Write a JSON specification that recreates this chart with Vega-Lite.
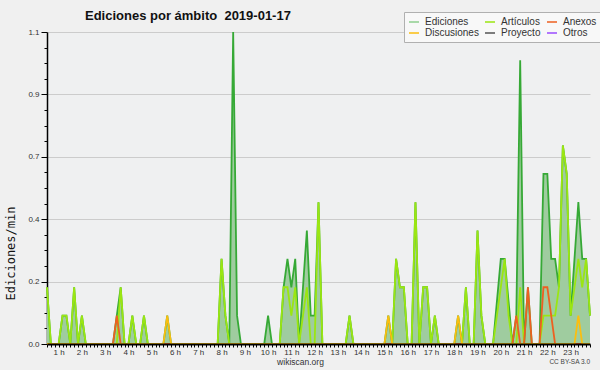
{
"$schema": "https://vega.github.io/schema/vega-lite/v6.json",
"width": 543, "height": 312,
"autosize": {"type": "none"},
"padding": {"left": 47, "top": 32, "right": 10, "bottom": 26},
"background": "#f0f0f0",
"config": {"view": {"fill": "#eff0f1", "stroke": null}, "font": "Liberation Sans"},
"title": {"text": "Ediciones por ámbito\u00a0 2019-01-17", "anchor": "start", "frame": "group", "dx": 38, "dy": 32, "offset": 11, "baseline": "alphabetic", "font": "Liberation Sans", "fontSize": 13, "fontWeight": "bold", "color": "#111111"},
"data": {"values": [
{"m":30,"Ediciones":0.2,"Artículos":0.2,"Anexos":0,"Discusiones":0},
{"m":40,"Ediciones":0,"Artículos":0,"Anexos":0,"Discusiones":0},
{"m":50,"Ediciones":0,"Artículos":0,"Anexos":0,"Discusiones":0},
{"m":60,"Ediciones":0,"Artículos":0,"Anexos":0,"Discusiones":0},
{"m":70,"Ediciones":0.1,"Artículos":0.1,"Anexos":0,"Discusiones":0},
{"m":80,"Ediciones":0.1,"Artículos":0.1,"Anexos":0,"Discusiones":0},
{"m":90,"Ediciones":0,"Artículos":0,"Anexos":0,"Discusiones":0},
{"m":100,"Ediciones":0.2,"Artículos":0.2,"Anexos":0,"Discusiones":0},
{"m":110,"Ediciones":0,"Artículos":0,"Anexos":0,"Discusiones":0},
{"m":120,"Ediciones":0.1,"Artículos":0.1,"Anexos":0,"Discusiones":0},
{"m":130,"Ediciones":0,"Artículos":0,"Anexos":0,"Discusiones":0},
{"m":140,"Ediciones":0,"Artículos":0,"Anexos":0,"Discusiones":0},
{"m":150,"Ediciones":0,"Artículos":0,"Anexos":0,"Discusiones":0},
{"m":160,"Ediciones":0,"Artículos":0,"Anexos":0,"Discusiones":0},
{"m":170,"Ediciones":0,"Artículos":0,"Anexos":0,"Discusiones":0},
{"m":180,"Ediciones":0,"Artículos":0,"Anexos":0,"Discusiones":0},
{"m":190,"Ediciones":0,"Artículos":0,"Anexos":0,"Discusiones":0},
{"m":200,"Ediciones":0,"Artículos":0,"Anexos":0,"Discusiones":0},
{"m":210,"Ediciones":0.1,"Artículos":0,"Anexos":0.1,"Discusiones":0},
{"m":220,"Ediciones":0.2,"Artículos":0.2,"Anexos":0,"Discusiones":0},
{"m":230,"Ediciones":0,"Artículos":0,"Anexos":0,"Discusiones":0},
{"m":240,"Ediciones":0,"Artículos":0,"Anexos":0,"Discusiones":0},
{"m":250,"Ediciones":0.1,"Artículos":0.1,"Anexos":0,"Discusiones":0},
{"m":260,"Ediciones":0,"Artículos":0,"Anexos":0,"Discusiones":0},
{"m":270,"Ediciones":0,"Artículos":0,"Anexos":0,"Discusiones":0},
{"m":280,"Ediciones":0.1,"Artículos":0.1,"Anexos":0,"Discusiones":0},
{"m":290,"Ediciones":0,"Artículos":0,"Anexos":0,"Discusiones":0},
{"m":300,"Ediciones":0,"Artículos":0,"Anexos":0,"Discusiones":0},
{"m":310,"Ediciones":0,"Artículos":0,"Anexos":0,"Discusiones":0},
{"m":320,"Ediciones":0,"Artículos":0,"Anexos":0,"Discusiones":0},
{"m":330,"Ediciones":0,"Artículos":0,"Anexos":0,"Discusiones":0},
{"m":340,"Ediciones":0.1,"Artículos":0,"Anexos":0,"Discusiones":0.1},
{"m":350,"Ediciones":0,"Artículos":0,"Anexos":0,"Discusiones":0},
{"m":360,"Ediciones":0,"Artículos":0,"Anexos":0,"Discusiones":0},
{"m":370,"Ediciones":0,"Artículos":0,"Anexos":0,"Discusiones":0},
{"m":380,"Ediciones":0,"Artículos":0,"Anexos":0,"Discusiones":0},
{"m":390,"Ediciones":0,"Artículos":0,"Anexos":0,"Discusiones":0},
{"m":400,"Ediciones":0,"Artículos":0,"Anexos":0,"Discusiones":0},
{"m":410,"Ediciones":0,"Artículos":0,"Anexos":0,"Discusiones":0},
{"m":420,"Ediciones":0,"Artículos":0,"Anexos":0,"Discusiones":0},
{"m":430,"Ediciones":0,"Artículos":0,"Anexos":0,"Discusiones":0},
{"m":440,"Ediciones":0,"Artículos":0,"Anexos":0,"Discusiones":0},
{"m":450,"Ediciones":0,"Artículos":0,"Anexos":0,"Discusiones":0},
{"m":460,"Ediciones":0,"Artículos":0,"Anexos":0,"Discusiones":0},
{"m":470,"Ediciones":0,"Artículos":0,"Anexos":0,"Discusiones":0},
{"m":480,"Ediciones":0.3,"Artículos":0.3,"Anexos":0,"Discusiones":0},
{"m":490,"Ediciones":0.1,"Artículos":0.1,"Anexos":0,"Discusiones":0},
{"m":500,"Ediciones":0,"Artículos":0,"Anexos":0,"Discusiones":0},
{"m":510,"Ediciones":1.1,"Artículos":0,"Anexos":0,"Discusiones":0},
{"m":520,"Ediciones":0.1,"Artículos":0,"Anexos":0,"Discusiones":0},
{"m":530,"Ediciones":0,"Artículos":0,"Anexos":0,"Discusiones":0},
{"m":540,"Ediciones":0,"Artículos":0,"Anexos":0,"Discusiones":0},
{"m":550,"Ediciones":0,"Artículos":0,"Anexos":0,"Discusiones":0},
{"m":560,"Ediciones":0,"Artículos":0,"Anexos":0,"Discusiones":0},
{"m":570,"Ediciones":0,"Artículos":0,"Anexos":0,"Discusiones":0},
{"m":580,"Ediciones":0,"Artículos":0,"Anexos":0,"Discusiones":0},
{"m":590,"Ediciones":0,"Artículos":0,"Anexos":0,"Discusiones":0},
{"m":600,"Ediciones":0.1,"Artículos":0,"Anexos":0,"Discusiones":0},
{"m":610,"Ediciones":0,"Artículos":0,"Anexos":0,"Discusiones":0},
{"m":620,"Ediciones":0,"Artículos":0,"Anexos":0,"Discusiones":0},
{"m":630,"Ediciones":0,"Artículos":0,"Anexos":0,"Discusiones":0},
{"m":640,"Ediciones":0.2,"Artículos":0.2,"Anexos":0,"Discusiones":0},
{"m":650,"Ediciones":0.3,"Artículos":0.2,"Anexos":0,"Discusiones":0},
{"m":660,"Ediciones":0.2,"Artículos":0.1,"Anexos":0,"Discusiones":0},
{"m":670,"Ediciones":0.3,"Artículos":0.2,"Anexos":0,"Discusiones":0},
{"m":680,"Ediciones":0,"Artículos":0,"Anexos":0,"Discusiones":0},
{"m":690,"Ediciones":0.2,"Artículos":0.1,"Anexos":0,"Discusiones":0},
{"m":700,"Ediciones":0.4,"Artículos":0.2,"Anexos":0,"Discusiones":0},
{"m":710,"Ediciones":0.1,"Artículos":0,"Anexos":0,"Discusiones":0},
{"m":720,"Ediciones":0.1,"Artículos":0,"Anexos":0,"Discusiones":0},
{"m":730,"Ediciones":0.5,"Artículos":0.5,"Anexos":0,"Discusiones":0},
{"m":740,"Ediciones":0,"Artículos":0,"Anexos":0,"Discusiones":0},
{"m":750,"Ediciones":0,"Artículos":0,"Anexos":0,"Discusiones":0},
{"m":760,"Ediciones":0,"Artículos":0,"Anexos":0,"Discusiones":0},
{"m":770,"Ediciones":0,"Artículos":0,"Anexos":0,"Discusiones":0},
{"m":780,"Ediciones":0,"Artículos":0,"Anexos":0,"Discusiones":0},
{"m":790,"Ediciones":0,"Artículos":0,"Anexos":0,"Discusiones":0},
{"m":800,"Ediciones":0,"Artículos":0,"Anexos":0,"Discusiones":0},
{"m":810,"Ediciones":0.1,"Artículos":0.1,"Anexos":0,"Discusiones":0},
{"m":820,"Ediciones":0,"Artículos":0,"Anexos":0,"Discusiones":0},
{"m":830,"Ediciones":0,"Artículos":0,"Anexos":0,"Discusiones":0},
{"m":840,"Ediciones":0,"Artículos":0,"Anexos":0,"Discusiones":0},
{"m":850,"Ediciones":0,"Artículos":0,"Anexos":0,"Discusiones":0},
{"m":860,"Ediciones":0,"Artículos":0,"Anexos":0,"Discusiones":0},
{"m":870,"Ediciones":0,"Artículos":0,"Anexos":0,"Discusiones":0},
{"m":880,"Ediciones":0,"Artículos":0,"Anexos":0,"Discusiones":0},
{"m":890,"Ediciones":0,"Artículos":0,"Anexos":0,"Discusiones":0},
{"m":900,"Ediciones":0,"Artículos":0,"Anexos":0,"Discusiones":0},
{"m":910,"Ediciones":0.1,"Artículos":0,"Anexos":0,"Discusiones":0.1},
{"m":920,"Ediciones":0,"Artículos":0,"Anexos":0,"Discusiones":0},
{"m":930,"Ediciones":0.3,"Artículos":0.3,"Anexos":0,"Discusiones":0},
{"m":940,"Ediciones":0.2,"Artículos":0.2,"Anexos":0,"Discusiones":0},
{"m":950,"Ediciones":0.2,"Artículos":0.2,"Anexos":0,"Discusiones":0},
{"m":960,"Ediciones":0,"Artículos":0,"Anexos":0,"Discusiones":0},
{"m":970,"Ediciones":0,"Artículos":0,"Anexos":0,"Discusiones":0},
{"m":980,"Ediciones":0.5,"Artículos":0.5,"Anexos":0,"Discusiones":0},
{"m":990,"Ediciones":0,"Artículos":0,"Anexos":0,"Discusiones":0},
{"m":1000,"Ediciones":0.2,"Artículos":0.2,"Anexos":0,"Discusiones":0},
{"m":1010,"Ediciones":0.2,"Artículos":0.2,"Anexos":0,"Discusiones":0},
{"m":1020,"Ediciones":0,"Artículos":0,"Anexos":0,"Discusiones":0},
{"m":1030,"Ediciones":0.1,"Artículos":0.1,"Anexos":0,"Discusiones":0},
{"m":1040,"Ediciones":0,"Artículos":0,"Anexos":0,"Discusiones":0},
{"m":1050,"Ediciones":0,"Artículos":0,"Anexos":0,"Discusiones":0},
{"m":1060,"Ediciones":0,"Artículos":0,"Anexos":0,"Discusiones":0},
{"m":1070,"Ediciones":0,"Artículos":0,"Anexos":0,"Discusiones":0},
{"m":1080,"Ediciones":0,"Artículos":0,"Anexos":0,"Discusiones":0},
{"m":1090,"Ediciones":0.1,"Artículos":0,"Anexos":0,"Discusiones":0.1},
{"m":1100,"Ediciones":0,"Artículos":0,"Anexos":0,"Discusiones":0},
{"m":1110,"Ediciones":0.2,"Artículos":0.2,"Anexos":0,"Discusiones":0},
{"m":1120,"Ediciones":0,"Artículos":0,"Anexos":0,"Discusiones":0},
{"m":1130,"Ediciones":0,"Artículos":0,"Anexos":0,"Discusiones":0},
{"m":1140,"Ediciones":0.4,"Artículos":0.4,"Anexos":0,"Discusiones":0},
{"m":1150,"Ediciones":0.1,"Artículos":0.1,"Anexos":0,"Discusiones":0},
{"m":1160,"Ediciones":0,"Artículos":0,"Anexos":0,"Discusiones":0},
{"m":1170,"Ediciones":0,"Artículos":0,"Anexos":0,"Discusiones":0},
{"m":1180,"Ediciones":0,"Artículos":0,"Anexos":0,"Discusiones":0},
{"m":1190,"Ediciones":0.15,"Artículos":0.1,"Anexos":0,"Discusiones":0},
{"m":1200,"Ediciones":0.3,"Artículos":0.2,"Anexos":0,"Discusiones":0},
{"m":1210,"Ediciones":0.3,"Artículos":0.3,"Anexos":0,"Discusiones":0},
{"m":1220,"Ediciones":0.15,"Artículos":0.1,"Anexos":0,"Discusiones":0},
{"m":1230,"Ediciones":0,"Artículos":0,"Anexos":0,"Discusiones":0},
{"m":1240,"Ediciones":0.1,"Artículos":0,"Anexos":0.1,"Discusiones":0},
{"m":1250,"Ediciones":1.0,"Artículos":0.2,"Anexos":0,"Discusiones":0},
{"m":1260,"Ediciones":0,"Artículos":0,"Anexos":0,"Discusiones":0},
{"m":1270,"Ediciones":0.2,"Artículos":0,"Anexos":0.2,"Discusiones":0},
{"m":1280,"Ediciones":0,"Artículos":0,"Anexos":0,"Discusiones":0},
{"m":1290,"Ediciones":0,"Artículos":0,"Anexos":0,"Discusiones":0},
{"m":1300,"Ediciones":0,"Artículos":0,"Anexos":0,"Discusiones":0},
{"m":1310,"Ediciones":0.6,"Artículos":0.1,"Anexos":0.2,"Discusiones":0},
{"m":1320,"Ediciones":0.6,"Artículos":0.1,"Anexos":0.2,"Discusiones":0},
{"m":1330,"Ediciones":0.3,"Artículos":0.1,"Anexos":0.1,"Discusiones":0},
{"m":1340,"Ediciones":0.3,"Artículos":0.1,"Anexos":0,"Discusiones":0},
{"m":1350,"Ediciones":0.2,"Artículos":0.2,"Anexos":0,"Discusiones":0},
{"m":1360,"Ediciones":0.7,"Artículos":0.7,"Anexos":0,"Discusiones":0},
{"m":1370,"Ediciones":0.6,"Artículos":0.6,"Anexos":0,"Discusiones":0},
{"m":1380,"Ediciones":0.1,"Artículos":0.1,"Anexos":0,"Discusiones":0},
{"m":1390,"Ediciones":0.3,"Artículos":0.2,"Anexos":0,"Discusiones":0},
{"m":1400,"Ediciones":0.5,"Artículos":0.3,"Anexos":0,"Discusiones":0.1},
{"m":1410,"Ediciones":0.3,"Artículos":0.2,"Anexos":0,"Discusiones":0},
{"m":1420,"Ediciones":0.3,"Artículos":0.3,"Anexos":0,"Discusiones":0},
{"m":1430,"Ediciones":0.1,"Artículos":0.1,"Anexos":0,"Discusiones":0}
]},
"layer": [
{"mark": {"type": "area", "color": "#9fcc9f"},
 "encoding": {
  "x": {"field": "m", "type": "quantitative", "title": "wikiscan.org",
   "scale": {"domain": [30, 1430], "nice": false, "zero": false},
   "axis": {"values": [30,40,50,60,70,80,90,100,110,120,130,140,150,160,170,180,190,200,210,220,230,240,250,260,270,280,290,300,310,320,330,340,350,360,370,380,390,400,410,420,430,440,450,460,470,480,490,500,510,520,530,540,550,560,570,580,590,600,610,620,630,640,650,660,670,680,690,700,710,720,730,740,750,760,770,780,790,800,810,820,830,840,850,860,870,880,890,900,910,920,930,940,950,960,970,980,990,1000,1010,1020,1030,1040,1050,1060,1070,1080,1090,1100,1110,1120,1130,1140,1150,1160,1170,1180,1190,1200,1210,1220,1230,1240,1250,1260,1270,1280,1290,1300,1310,1320,1330,1340,1350,1360,1370,1380,1390,1400,1410,1420,1430],
    "tickCount": 1000,
    "labelExpr": "(round(datum.value) % 60 == 0) ? ('' + round(datum.value / 60) + ' h') : ''",
    "tickSize": 3, "tickColor": "#000000", "domainColor": "#000000", "domainWidth": 2, "grid": false,
    "labelFont": "Liberation Sans", "labelFontSize": 8, "labelColor": "#333333", "labelPadding": 1,
    "labelOverlap": false, "labelBound": false, "labelFlush": false,
    "titleX": 253, "titleY": 17, "titleBaseline": "middle", "titleAlign": "center", "titleFont": "Liberation Sans", "titleFontSize": 8.5, "titleFontWeight": "normal", "titleColor": "#333333",
    "zindex": 1}},
  "y": {"field": "Ediciones", "type": "quantitative", "title": "Ediciones/min",
   "scale": {"domain": [0, 1.1], "nice": false},
   "axis": {"values": [0,0.055,0.11,0.165,0.22,0.275,0.33,0.385,0.44,0.495,0.55,0.605,0.66,0.715,0.77,0.825,0.88,0.935,0.99,1.045,1.1],
    "tickCount": 1000,
    "labelExpr": "round(datum.value / 0.055) % 4 === 0 ? format(datum.value, '.1f') : ''",
    "tickSize": {"condition": {"test": "round(datum.value / 0.055) % 4 === 0", "value": 6}, "value": 3},
    "gridOpacity": {"condition": {"test": "round(datum.value / 0.055) % 4 === 0", "value": 1}, "value": 0},
    "gridColor": "#cccccc", "tickColor": "#000000", "domainColor": "#000000", "domainWidth": 1.5,
    "labelFont": "Liberation Sans", "labelFontSize": 8, "labelColor": "#333333", "labelPadding": 2,
    "labelOverlap": false, "labelBound": false, "labelFlush": false,
    "titleFont": "DejaVu Sans Mono", "titleFontSize": 12, "titleFontWeight": "normal", "titleColor": "#111111",
    "titleX": -37, "titleY": 221, "titleAlign": "center", "titleBaseline": "middle"}}
 }},
{"mark": {"type": "line", "color": "#36a936", "strokeWidth": 1.8},
 "encoding": {
  "x": {"field": "m", "type": "quantitative", "title": "wikiscan.org"},
  "y": {"field": "Ediciones", "type": "quantitative", "title": "Ediciones/min"}}},
{"transform": [{"fold": ["Artículos", "Anexos", "Discusiones"], "as": ["serie", "v"]}],
 "mark": {"type": "line", "strokeWidth": 1.8},
 "encoding": {
  "x": {"field": "m", "type": "quantitative", "title": "wikiscan.org"},
  "y": {"field": "v", "type": "quantitative", "title": "Ediciones/min"},
  "color": {"field": "serie", "type": "nominal",
   "scale": {"domain": ["Ediciones", "Artículos", "Anexos", "Discusiones", "Proyecto", "Otros"],
             "range": ["#8fcf8f", "#9be612", "#ee6020", "#fbbe10", "#555555", "#9b4dff"]},
   "legend": {"title": null, "orient": "none", "legendX": 357, "legendY": -20, "columns": 3, "direction": "horizontal",
    "symbolType": "stroke", "symbolSize": 100, "symbolStrokeWidth": 1.5,
    "labelFont": "Liberation Sans", "labelFontSize": 10, "labelColor": "#333333", "labelOffset": 5,
    "columnPadding": 3, "rowPadding": 0, "padding": 4, "fillColor": "#f8f8f8", "strokeColor": "#b0b0b0", "zindex": 2}}}},
{"data": {"values": [{"t": "CC BY-SA 3.0"}]},
 "mark": {"type": "text", "align": "right", "baseline": "middle", "dy": 18, "fontSize": 6.5, "font": "Liberation Sans", "color": "#444444"},
 "encoding": {
  "x": {"datum": 1430, "type": "quantitative"},
  "y": {"datum": 0, "type": "quantitative"},
  "text": {"field": "t"}}}
]
}
